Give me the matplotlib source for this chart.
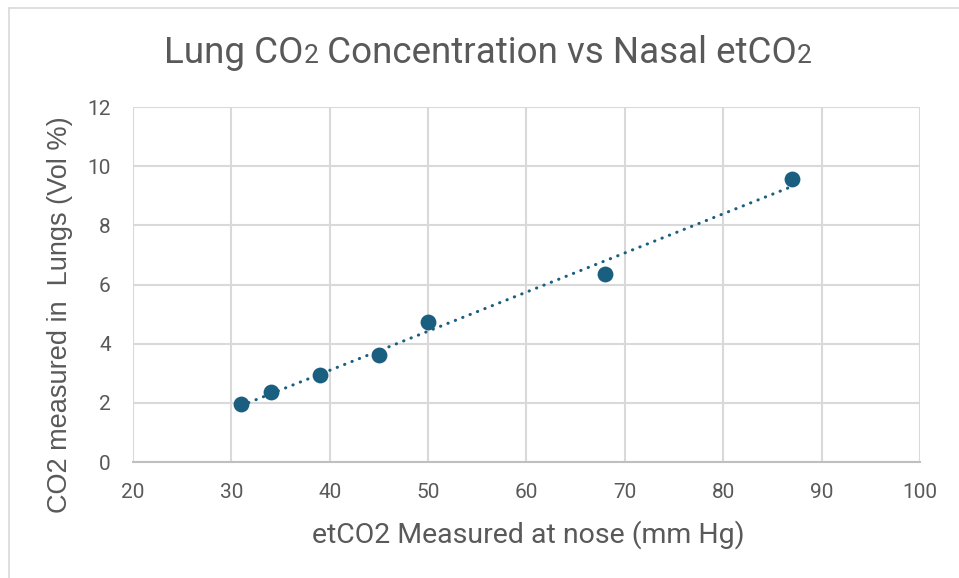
import numpy as np
import matplotlib.pyplot as plt
from matplotlib.offsetbox import TextArea, HPacker, AnchoredOffsetbox
from matplotlib.lines import Line2D

# data
etco2_nose = [31, 34, 39, 45, 50, 68, 87]
co2_lungs = [1.95, 2.35, 2.93, 3.63, 4.72, 6.35, 9.55]

x_ticks = [20, 30, 40, 50, 60, 70, 80, 90, 100]
y_ticks = [0, 2, 4, 6, 8, 10, 12]

text_grey = "#595959"
point_col = "#1a5e80"
narrow = ["Roboto", "DejaVu Sans"]

W, H = 959, 578
fig = plt.figure(figsize=(W / 100, H / 100), dpi=100)

# chart-area frame: only the left and top edges show in the reference
fx, fy = 8.5 / W, 1 - 7.5 / H
fig.add_artist(Line2D([fx, fx], [0, fy], transform=fig.transFigure, color="#d9d9d9", lw=1.2))
fig.add_artist(Line2D([fx, 1], [fy, fy], transform=fig.transFigure, color="#d9d9d9", lw=1.2))

ax = fig.add_axes([133 / W, 1 - 462 / H, 787 / W, 355 / H])

# linear trendline (dotted), like Excel
slope, intercept = np.polyfit(etco2_nose, co2_lungs, 1)
xs = np.array([min(etco2_nose), max(etco2_nose)])
ax.plot(xs, slope * xs + intercept, color=point_col, linewidth=2.2,
        linestyle=(0, (0.1, 2.5)), dash_capstyle="round", zorder=2)
ax.scatter(etco2_nose, co2_lungs, s=130, color=point_col, zorder=3, linewidths=0)

ax.set_xlim(20, 100)
ax.set_ylim(0, 12)
ax.set_xticks(x_ticks)
ax.set_yticks(y_ticks)
ax.grid(True, color="#d9d9d9", linewidth=1.5)
ax.set_axisbelow(True)
for s in ["top", "right", "left"]:
    ax.spines[s].set_visible(False)
ax.spines["bottom"].set_color("#bfbfbf")
ax.spines["bottom"].set_linewidth(1.5)
ax.tick_params(length=0, labelsize=15, labelcolor=text_grey)
ax.tick_params(axis="x", pad=15)
ax.tick_params(axis="y", pad=16)
for lab in ax.get_xticklabels() + ax.get_yticklabels():
    lab.set_family(narrow)

ax.set_xlabel("etCO2 Measured at nose (mm Hg)", fontsize=20.5, color=text_grey, family=narrow)
ax.xaxis.set_label_coords(0.5025, -0.163)
ax.set_ylabel("CO2 measured in  Lungs (Vol %)", fontsize=19.5, color=text_grey,
              family=["Liberation Sans", "DejaVu Sans"])
ax.yaxis.set_label_coords(-0.076, 0.414)

# title with small "2"s sitting on the baseline
big = dict(fontsize=26.5, color=text_grey, family=narrow)
small = dict(fontsize=19, color=text_grey, family=narrow)
parts = [("Lung CO", big), ("2", small), (" Concentration vs Nasal etCO", big), ("2", small)]
boxes = [TextArea(t, textprops=p) for t, p in parts]
title = HPacker(children=boxes, align="baseline", pad=0, sep=0)
anchored = AnchoredOffsetbox(loc="center", child=title, frameon=False,
                             bbox_to_anchor=(0.509, 0.908), bbox_transform=fig.transFigure,
                             borderpad=0, pad=0)
fig.add_artist(anchored)

fig.savefig("out.png", dpi=100)
